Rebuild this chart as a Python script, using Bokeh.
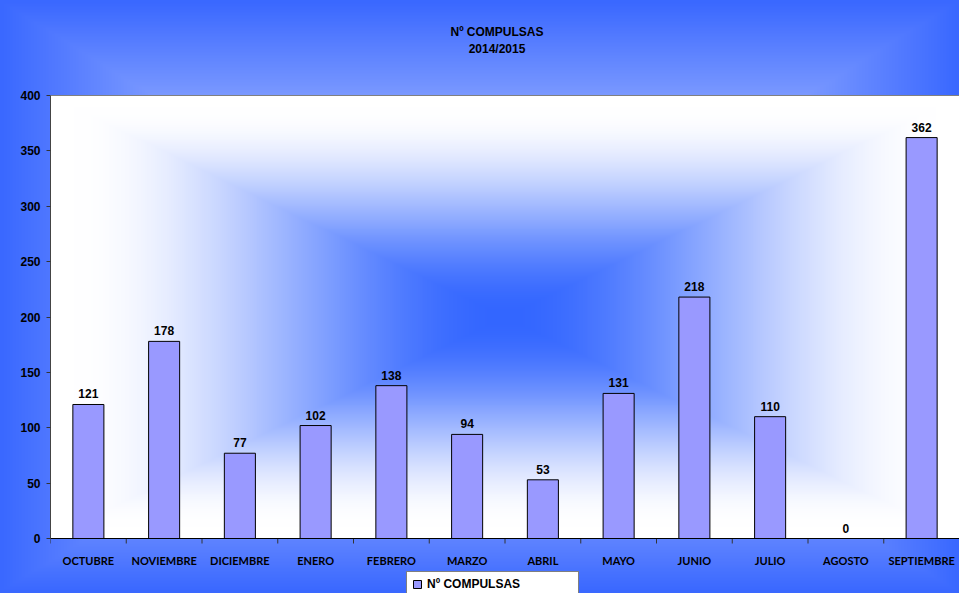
import base64
import struct
import zlib

import numpy as np
from bokeh.plotting import figure
from bokeh.models import (Range1d, FactorRange, FixedTicker, Legend, LegendItem, Span)
from bokeh.embed import file_html
from bokeh.resources import INLINE
from bokeh.core.properties import value

# ---------------- data ----------------
months = ["OCTUBRE", "NOVIEMBRE", "DICIEMBRE", "ENERO", "FEBRERO", "MARZO",
          "ABRIL", "MAYO", "JUNIO", "JULIO", "AGOSTO", "SEPTIEMBRE"]
compulsas = [121, 178, 77, 102, 138, 94, 53, 131, 218, 110, 0, 362]
y_ticks = [0, 50, 100, 150, 200, 250, 300, 350, 400]
series_name = "Nº COMPULSAS"
title_lines = ["Nº COMPULSAS", "2014/2015"]

W, H = 959, 593
Y_MAX = 400
N = len(months)

# layout (pixels): plot area top / bottom inside the figure
B_LEFT = 50
AREA_TOP, AREA_BOTTOM = 95, 538
AREA_H = AREA_BOTTOM - AREA_TOP
UPP = Y_MAX / AREA_H                      # data units per pixel
Y_START = -(H - AREA_BOTTOM) * UPP
Y_END = Y_MAX + AREA_TOP * UPP


# ---------------- gradient helpers (styling only) ----------------
def rect_t(nx, ny):
    xs = np.abs(np.linspace(-1, 1, nx))
    ys = np.abs(np.linspace(-1, 1, ny))
    return np.maximum(xs[None, :], ys[:, None])


def png_uri(rgb):
    h, w, _ = rgb.shape
    raw = b"".join(b"\x00" + rgb[i].tobytes() for i in range(h))

    def chunk(tag, data):
        c = struct.pack(">I", len(data)) + tag + data
        return c + struct.pack(">I", zlib.crc32(tag + data) & 0xffffffff)

    png = (b"\x89PNG\r\n\x1a\n"
           + chunk(b"IHDR", struct.pack(">IIBBBBB", w, h, 8, 2, 0, 0, 0))
           + chunk(b"IDAT", zlib.compress(raw, 9))
           + chunk(b"IEND", b""))
    return "data:image/png;base64," + base64.b64encode(png).decode()


# outer background: rectangular gradient, light centre -> blue edges
t_out = rect_t(320, 200)
f_out = t_out ** 1.2
inner_c = np.array([235, 238, 255], dtype=float)
outer_c = np.array([58, 104, 255], dtype=float)
bg_rgb = (inner_c[None, None, :] + (outer_c - inner_c)[None, None, :] * f_out[:, :, None])
bg_rgb = np.clip(bg_rgb, 0, 255).astype(np.uint8)
bg_uri = png_uri(bg_rgb)

# plot area: rectangular gradient, blue centre -> white edges
t_in = rect_t(460, 224)
s = np.clip(t_in / 0.95, 0, 1)
f_in = s * s * (3 - 2 * s)
blue = np.array([51, 102, 255], dtype=float)
white = np.array([255, 255, 255], dtype=float)
pa = blue[None, None, :] + (white - blue)[None, None, :] * f_in[:, :, None]
pa_rgba = np.empty(pa.shape[:2] + (4,), dtype=np.uint8)
pa_rgba[:, :, :3] = np.clip(pa, 0, 255).astype(np.uint8)
pa_rgba[:, :, 3] = 255
pa_img = np.ascontiguousarray(pa_rgba).view(dtype=np.uint32).reshape(pa.shape[:2])

# ---------------- figure ----------------
p = figure(width=W, height=H,
           x_range=FactorRange(*months), y_range=Range1d(Y_START, Y_END),
           output_backend="svg", toolbar_location=None,
           x_axis_location=None,
           min_border_left=B_LEFT, min_border_right=0,
           min_border_top=0, min_border_bottom=0,
           border_fill_color=None, background_fill_color=None,
           outline_line_color=None)
p.styles = {"background-image": f"url({bg_uri})",
            "background-size": "100% 100%",
            "background-repeat": "no-repeat"}

# plot-area gradient spans the whole categorical range (synthetic coords 0..N)
p.image_rgba(image=[pa_img], x=0, y=0, dw=N, dh=Y_MAX)

# top border of plot area and category axis line
p.add_layout(Span(location=Y_MAX, dimension="width", line_color="#808080", line_width=1))
p.add_layout(Span(location=0, dimension="width", line_color="black", line_width=1))

# boundary ticks under the category axis (5 px long)
bounds = list(range(N + 1))
p.segment(x0=bounds, y0=[0] * len(bounds), x1=bounds, y1=[-5 * UPP] * len(bounds),
          line_color="#333333", line_width=1)

bars = p.vbar(x=months, top=compulsas, width=0.41,
              fill_color="#9999FF", line_color="black", line_width=1)

# value labels
p.text(x=months, y=compulsas, text=[str(v) for v in compulsas],
       text_align="center", text_baseline="bottom", y_offset=-6,
       text_font=value("Liberation Sans"), text_font_style="bold",
       text_font_size="12px", text_color="black")

# category labels
p.text(x=months, y=[0] * N, text=months,
       text_align="center", text_baseline="middle", y_offset=22,
       text_font=value("Lato"), text_font_style="bold",
       text_font_size="11px", text_color="black")

# chart title (two lines above the plot area)
p.text(x=[N / 2] * 2, y=[Y_MAX] * 2, text=title_lines,
       text_align="center", text_baseline="middle",
       x_offset=-8, y_offset=[-64, -47],
       text_font=value("Liberation Sans"), text_font_style="bold",
       text_font_size="12px", text_color="black")

# grid off
p.xgrid.visible = False
p.ygrid.visible = False

# y axis
ya = p.yaxis[0]
ya.bounds = (0, Y_MAX)
ya.ticker = FixedTicker(ticks=y_ticks)
ya.minor_tick_line_color = None
ya.major_tick_in = 0
ya.major_tick_out = 4
ya.major_tick_line_color = "#333333"
ya.axis_line_color = "#444444"
ya.major_label_standoff = 6
ya.major_label_text_font = "Liberation Sans"
ya.major_label_text_font_style = "bold"
ya.major_label_text_font_size = "12px"
ya.major_label_text_color = "black"

# legend, below the category labels
legend = Legend(items=[LegendItem(label=series_name, renderers=[bars])],
                location=(356, -4), orientation="horizontal",
                padding=5, margin=0, spacing=0,
                glyph_width=10, glyph_height=10, label_height=14,
                label_width=146, label_standoff=5,
                label_text_font="Liberation Sans", label_text_font_style="bold",
                label_text_font_size="12px", label_text_color="black",
                border_line_color="black", border_line_width=1,
                background_fill_color="white", background_fill_alpha=1.0)
p.add_layout(legend)

open("out.html", "w").write(file_html(p, INLINE))
